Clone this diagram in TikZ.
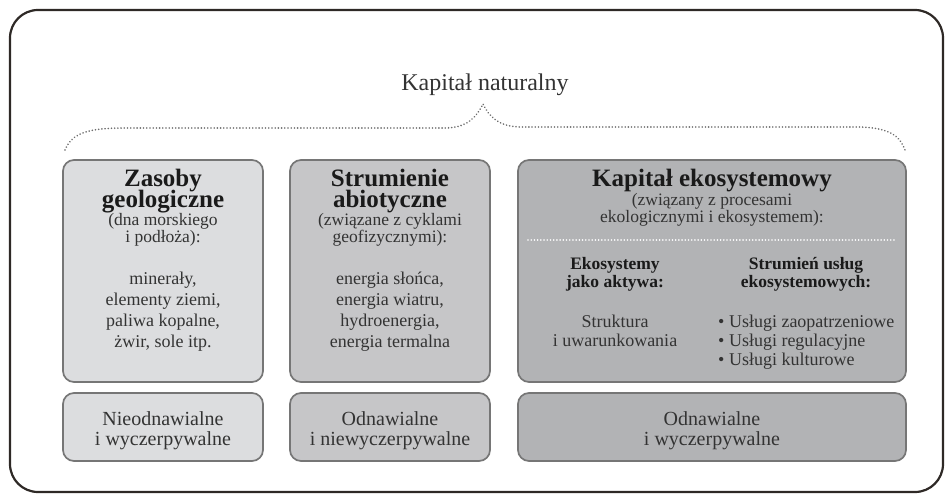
\documentclass[tikz,border=0pt]{standalone}
\usepackage{fontspec}
\setmainfont{Liberation Serif}
\definecolor{framec}{HTML}{2E2926}
\definecolor{boxline}{HTML}{767676}
\definecolor{fillA}{HTML}{DCDDDF}
\definecolor{fillB}{HTML}{C6C6C8}
\definecolor{fillC}{HTML}{B2B3B5}
\definecolor{txt}{HTML}{333333}
\definecolor{txtdark}{HTML}{1A1A1A}
\definecolor{dotc}{HTML}{6E6E6E}
\tikzset{
  panel/.style={draw=boxline, line width=1.7pt, rounded corners=11pt, inner sep=0pt},
  ln/.style={anchor=base, inner sep=0pt, text=txt},
  ttl/.style={ln, font=\fontsize{24}{28}\selectfont},
  hd/.style={ln, text=txtdark, font=\fontsize{25}{28}\selectfont\bfseries},
  sub/.style={ln, font=\fontsize{17.5}{20}\selectfont},
  itm/.style={ln, font=\fontsize{18}{20}\selectfont},
  shd/.style={ln, text=txtdark, font=\fontsize{17.5}{20}\selectfont\bfseries},
  bot/.style={ln, font=\fontsize{20}{22}\selectfont},
  dots/.style={draw=dotc, line width=1.8pt, line cap=round, dash pattern=on 0.01pt off 3.2pt}
}
\begin{document}
\begin{tikzpicture}[x=1pt, y=-1pt]
\useasboundingbox (0,0) rectangle (946,495);
% outer frame
\draw[framec, line width=2.2pt, rounded corners=28pt] (10,10) rectangle (943,492);
% title
\node[ttl] (title) at (485,91) {Kapitał naturalny};
% brace
\coordinate (bl) at (65,150);
\coordinate (br) at (905,150);
\coordinate (bp) at (483,104);
\draw[dots] (bl) .. controls (72,133) and (88,128) .. (125,128) -- (445,128)
  .. controls (468,128) and (477,116) .. (bp)
  .. controls (489,116) and (498,127) .. (522,127) -- (860,127)
  .. controls (890,128) and (900,136) .. (br);
% boxes
\node[panel, fill=fillA, minimum width=200pt, minimum height=222pt] (b1) at (163,271) {};
\node[panel, fill=fillB, minimum width=200pt, minimum height=222pt] (b2) at (390,271) {};
\node[panel, fill=fillC, minimum width=388pt, minimum height=222pt] (b3) at (712,271) {};
\node[panel, fill=fillA, minimum width=200pt, minimum height=68pt] (c1) at (163,427) {};
\node[panel, fill=fillB, minimum width=200pt, minimum height=68pt] (c2) at (390,427) {};
\node[panel, fill=fillC, minimum width=388pt, minimum height=68pt] (c3) at (712,427) {};
% box 1
\node[hd] (b1h1) at (163,186) {Zasoby};
\node[hd] (b1h2) at (163,207) {geologiczne};
\node[sub] (b1s1) at (163,225) {(dna morskiego};
\node[sub] (b1s2) at (163,242) {i podłoża):};
\node[itm] (b1i1) at (163,284) {minerały,};
\node[itm] (b1i2) at (163,305) {elementy ziemi,};
\node[itm] (b1i3) at (163,326) {paliwa kopalne,};
\node[itm] (b1i4) at (163,347) {żwir, sole itp.};
% box 2
\node[hd] (b2h1) at (390,186) {Strumienie};
\node[hd] (b2h2) at (390,207) {abiotyczne};
\node[sub] (b2s1) at (390,225) {(związane z cyklami};
\node[sub] (b2s2) at (390,242) {geofizycznymi):};
\node[itm] (b2i1) at (390,284) {energia słońca,};
\node[itm] (b2i2) at (390,305) {energia wiatru,};
\node[itm] (b2i3) at (390,326) {hydroenergia,};
\node[itm] (b2i4) at (390,347) {energia termalna};
% box 3
\node[hd] (b3h1) at (712,186) {Kapitał ekosystemowy};
\node[sub] (b3s1) at (712,205) {(związany z procesami};
\node[sub] (b3s2) at (712,222) {ekologicznymi i ekosystemem):};
\coordinate (dl) at (528,240);
\coordinate (dr) at (897,240);
\draw[white, line width=1.7pt, line cap=round, dash pattern=on 0.01pt off 3.2pt] (dl) -- (dr);
\node[shd] (e1) at (615,269) {Ekosystemy};
\node[shd] (e2) at (615,287) {jako aktywa:};
\node[shd] (s1) at (806,269) {Strumień usług};
\node[shd] (s2) at (806,287) {ekosystemowych:};
\node[itm] (e3) at (615,327) {Struktura};
\node[itm] (e4) at (615,346) {i uwarunkowania};
\node[itm, anchor=base west] (u1) at (718,327) {\textbullet\ Usługi zaopatrzeniowe};
\node[itm, anchor=base west] (u2) at (718,346) {\textbullet\ Usługi regulacyjne};
\node[itm, anchor=base west] (u3) at (718,365) {\textbullet\ Usługi kulturowe};
% bottom boxes
\node[bot] (c1a) at (163,425) {Nieodnawialne};
\node[bot] (c1b) at (163,445) {i wyczerpywalne};
\node[bot] (c2a) at (390,425) {Odnawialne};
\node[bot] (c2b) at (390,445) {i niewyczerpywalne};
\node[bot] (c3a) at (712,425) {Odnawialne};
\node[bot] (c3b) at (712,445) {i wyczerpywalne};
\end{tikzpicture}
\end{document}
